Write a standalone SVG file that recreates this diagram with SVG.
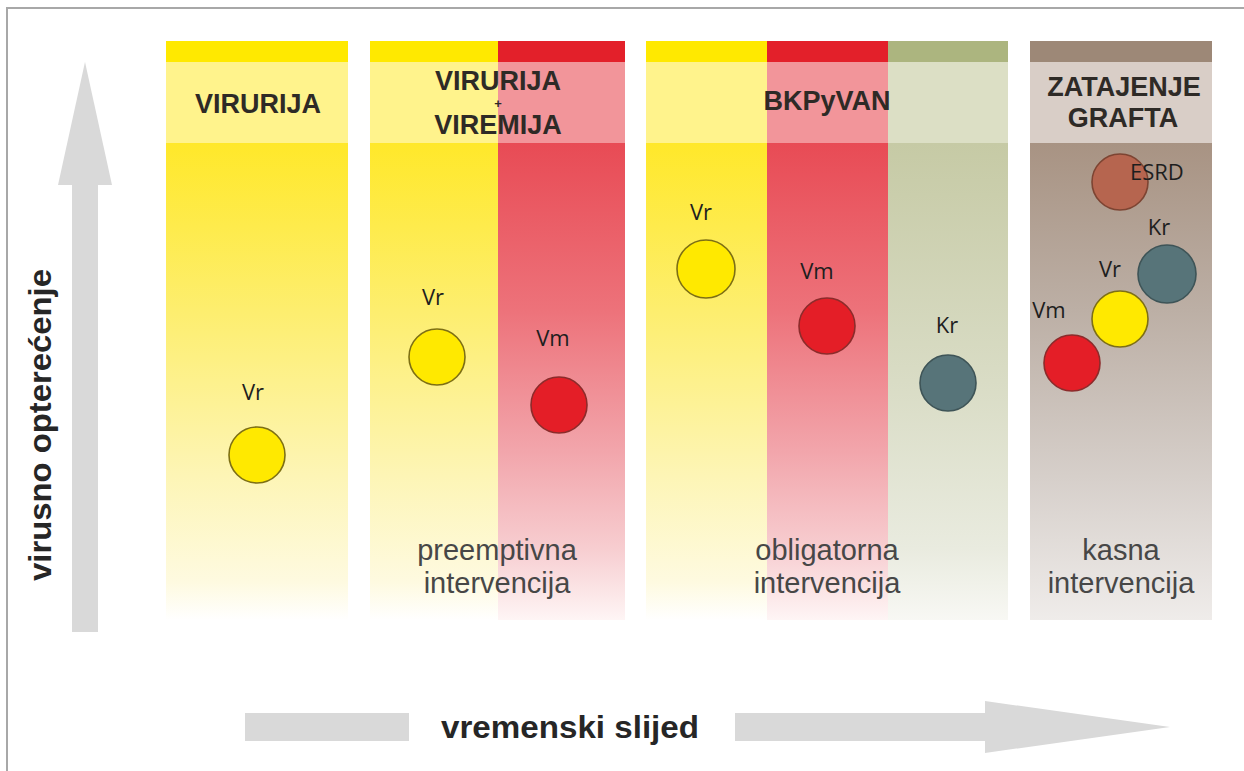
<svg xmlns="http://www.w3.org/2000/svg" width="1244" height="771" viewBox="0 0 1244 771">
<defs>
<style>
.hdr{font-family:"Liberation Sans",Arial,sans-serif;font-weight:bold;font-size:27px;fill:#2e2a26;text-anchor:middle}
.plus{font-family:"Liberation Sans",Arial,sans-serif;font-weight:bold;font-size:13px;fill:#2e2a26;text-anchor:middle}
.lbl{font-family:"Open Sans","Noto Sans",sans-serif;font-size:22px;fill:#1e1e1e;text-anchor:middle}
.int{font-family:"Liberation Sans",Arial,sans-serif;font-size:29px;fill:#474747;text-anchor:middle}
.axis{fill:#d9d9d9}
.axt{font-family:"Liberation Sans",Arial,sans-serif;font-weight:bold;font-size:31px;fill:#262626}
.cy{fill:#ffe900;stroke:#7d6f14;stroke-width:1.6}
.cr{fill:#e41e27;stroke:#8c2b2b;stroke-width:1.6}
.ck{fill:#577479;stroke:#3e5457;stroke-width:1.6}
.ce{fill:#b6654f;stroke:#7d4432;stroke-width:1.6}
</style>
<linearGradient id="gy" x1="0" y1="0" x2="0" y2="1">
<stop offset="0" stop-color="#ffe82a"/>
<stop offset="0.35" stop-color="#fdee6e"/>
<stop offset="0.7" stop-color="#fdf5b6"/>
<stop offset="0.92" stop-color="#fefae0"/>
<stop offset="1" stop-color="#ffffff"/>
</linearGradient>
<linearGradient id="gr" x1="0" y1="0" x2="0" y2="1">
<stop offset="0" stop-color="#e84b55"/>
<stop offset="0.35" stop-color="#ed727a"/>
<stop offset="0.65" stop-color="#f2a6ac"/>
<stop offset="0.85" stop-color="#f7cdd0"/>
<stop offset="1" stop-color="#fef5f5"/>
</linearGradient>
<linearGradient id="gg" x1="0" y1="0" x2="0" y2="1">
<stop offset="0" stop-color="#c6caa5"/>
<stop offset="0.5" stop-color="#d9dcc5"/>
<stop offset="0.85" stop-color="#e9ebdf"/>
<stop offset="1" stop-color="#f8f8f4"/>
</linearGradient>
<linearGradient id="gb" x1="0" y1="0" x2="0" y2="1">
<stop offset="0" stop-color="#a89383"/>
<stop offset="0.35" stop-color="#bcafa5"/>
<stop offset="0.7" stop-color="#d6cfca"/>
<stop offset="1" stop-color="#efecea"/>
</linearGradient>
</defs>
<rect x="0" y="0" width="1244" height="771" fill="#ffffff"/>
<path d="M7,771 V8 H1244" fill="none" stroke="#a8a8a8" stroke-width="2"/>

<g id="panel-virurija">
<rect x="166" y="41" width="182" height="21" fill="#ffe900"/>
<rect x="166" y="62" width="182" height="81" fill="#fff38c"/>
<rect x="166" y="143" width="182" height="477" fill="url(#gy)"/>
<text class="hdr" x="258" y="113">VIRURIJA</text>
</g>

<g id="panel-viremija">
<rect x="370" y="41" width="128" height="21" fill="#ffe900"/>
<rect x="498" y="41" width="127" height="21" fill="#e3202a"/>
<rect x="370" y="62" width="128" height="81" fill="#fff38c"/>
<rect x="498" y="62" width="127" height="81" fill="#f2959a"/>
<rect x="370" y="143" width="128" height="477" fill="url(#gy)"/>
<rect x="498" y="143" width="127" height="477" fill="url(#gr)"/>
<text class="hdr" x="498" y="90">VIRURIJA</text>
<text class="plus" x="498" y="108">+</text>
<text class="hdr" x="498" y="134">VIREMIJA</text>
<text class="int" x="497" y="560">preemptivna</text>
<text class="int" x="497" y="593">intervencija</text>
</g>

<g id="panel-bkpyvan">
<rect x="646" y="41" width="121" height="21" fill="#ffe900"/>
<rect x="767" y="41" width="121" height="21" fill="#e3202a"/>
<rect x="888" y="41" width="120" height="21" fill="#acb57f"/>
<rect x="646" y="62" width="121" height="81" fill="#fff38c"/>
<rect x="767" y="62" width="121" height="81" fill="#f2959a"/>
<rect x="888" y="62" width="120" height="81" fill="#dcdfc5"/>
<rect x="646" y="143" width="121" height="477" fill="url(#gy)"/>
<rect x="767" y="143" width="121" height="477" fill="url(#gr)"/>
<rect x="888" y="143" width="120" height="477" fill="url(#gg)"/>
<text class="hdr" x="827" y="110">BKPyVAN</text>
<text class="int" x="827" y="560">obligatorna</text>
<text class="int" x="827" y="593">intervencija</text>
</g>

<g id="panel-zatajenje">
<rect x="1030" y="41" width="182" height="21" fill="#9d8877"/>
<rect x="1030" y="62" width="182" height="81" fill="#d9cec7"/>
<rect x="1030" y="143" width="182" height="477" fill="url(#gb)"/>
<text class="hdr" x="1124" y="96">ZATAJENJE</text>
<text class="hdr" x="1123" y="127">GRAFTA</text>
<text class="int" x="1121" y="560">kasna</text>
<text class="int" x="1121" y="593">intervencija</text>
</g>

<g id="node-p1-vr"><circle class="cy" cx="257" cy="455" r="28"/><text class="lbl" x="253" y="400">Vr</text></g>
<g id="node-p2-vr"><circle class="cy" cx="437" cy="357" r="28"/><text class="lbl" x="433" y="305">Vr</text></g>
<g id="node-p2-vm"><circle class="cr" cx="559" cy="405" r="28"/><text class="lbl" x="553" y="346">Vm</text></g>
<g id="node-p3-vr"><circle class="cy" cx="706" cy="269" r="29"/><text class="lbl" x="701" y="220">Vr</text></g>
<g id="node-p3-vm"><circle class="cr" cx="827" cy="326" r="28"/><text class="lbl" x="817" y="279">Vm</text></g>
<g id="node-p3-kr"><circle class="ck" cx="948" cy="383" r="28"/><text class="lbl" x="947" y="333">Kr</text></g>
<g id="node-p4-esrd"><circle class="ce" cx="1120" cy="182" r="28"/><text class="lbl" x="1130" y="180" style="text-anchor:start">ESRD</text></g>
<g id="node-p4-kr"><circle class="ck" cx="1167" cy="274" r="29"/><text class="lbl" x="1159" y="235">Kr</text></g>
<g id="node-p4-vr"><circle class="cy" cx="1120" cy="319" r="28"/><text class="lbl" x="1110" y="277">Vr</text></g>
<g id="node-p4-vm"><circle class="cr" cx="1072" cy="363" r="28"/><text class="lbl" x="1049" y="318">Vm</text></g>

<g id="connectors">
<rect class="axis" x="72" y="184" width="26" height="448"/>
<polygon class="axis" points="58,185 112,185 85,62"/>
<rect class="axis" x="245" y="713" width="164" height="28"/>
<rect class="axis" x="735" y="713" width="252" height="28"/>
<polygon class="axis" points="985,701 985,753 1170,727"/>
</g>
<g id="axis-labels">
<text class="axt" x="441" y="738" textLength="258" lengthAdjust="spacingAndGlyphs">vremenski slijed</text>
<text class="axt" transform="translate(51,425) rotate(-90)" x="0" y="0" text-anchor="middle" textLength="312" lengthAdjust="spacingAndGlyphs">virusno opterećenje</text>
</g>
</svg>
